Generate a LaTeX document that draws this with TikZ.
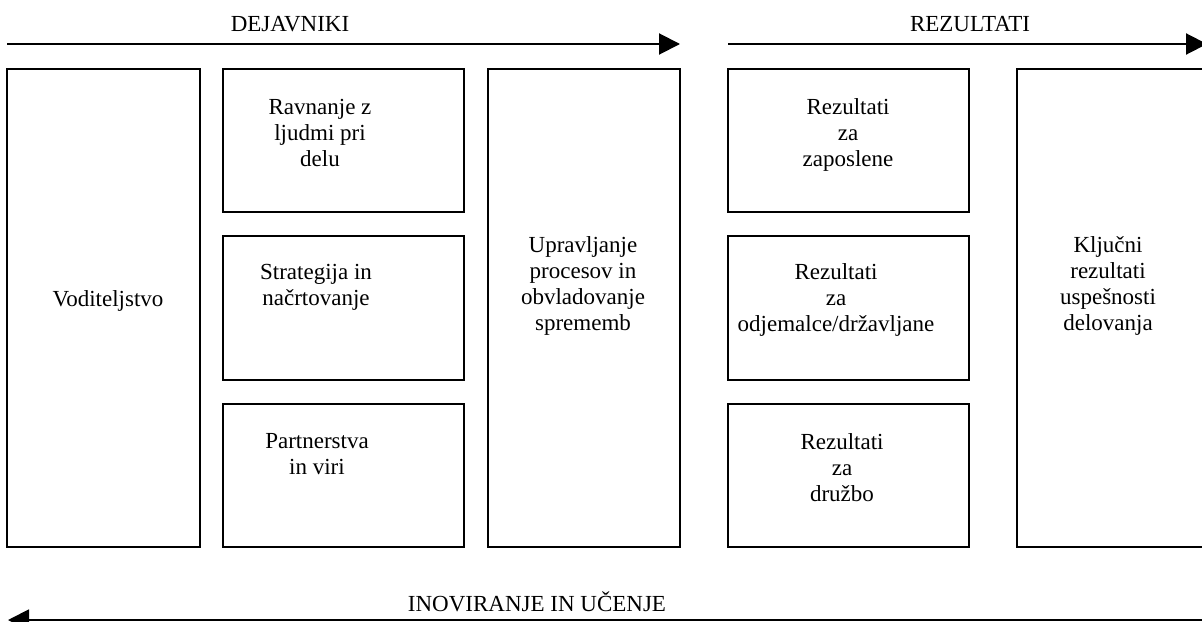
\documentclass[tikz,border=0pt]{standalone}
\usepackage{fontspec}
\setmainfont{Liberation Serif}
\usetikzlibrary{arrows.meta}
\tikzset{
  lbl/.style={align=center, font=\fontsize{11.5}{13}\selectfont, inner sep=0pt},
  flow/.style={line width=1pt, -{Triangle[length=10.5pt,width=10.5pt]}},
}
\begin{document}
\begin{tikzpicture}[x=0.5pt,y=-0.5pt,line width=1pt]
  \useasboundingbox (0,0) rectangle (1202,621);
  % boxes
  \draw (7,69) rectangle (200,547);
  \draw (223,69) rectangle (464,212);
  \draw (223,236) rectangle (464,380);
  \draw (223,404) rectangle (464,547);
  \draw (488,69) rectangle (680,547);
  \draw (728,69) rectangle (969,212);
  \draw (728,236) rectangle (969,380);
  \draw (728,404) rectangle (969,547);
  \draw (1017,69) rectangle (1215,547);
  % arrows
  \coordinate (dejL) at (7,44);
  \coordinate (dejR) at (680,44);
  \coordinate (rezL) at (728,44);
  \coordinate (rezR) at (1207,44);
  \coordinate (inoR) at (1215,620);
  \coordinate (inoL) at (8,620);
  \draw[flow] (dejL) -- (dejR);
  \draw[flow] (rezL) -- (rezR);
  \draw[flow] (inoR) -- (inoL);
  % labels
  \node[lbl] (dej) at (290,24) {DEJAVNIKI};
  \node[lbl] (rez) at (970,24) {REZULTATI};
  \node[lbl] (ino) at (537,602) {INOVIRANJE IN UČENJE};
  \node[lbl] (vod) at (108,301) {Voditeljstvo};
  \node[lbl] (ravn) at (320,133) {Ravnanje z\\ljudmi pri\\delu};
  \node[lbl] (strat) at (316,287) {Strategija in\\načrtovanje};
  \node[lbl] (partn) at (317,454) {Partnerstva\\in viri};
  \node[lbl] (uprav) at (583,286) {Upravljanje\\procesov in\\obvladovanje\\sprememb};
  \node[lbl] (rzap) at (848,135) {Rezultati\\za\\zaposlene};
  \node[lbl] (rodj) at (836,300) {Rezultati\\za\\odjemalce/državljane};
  \node[lbl] (rdru) at (842,468) {Rezultati\\za\\družbo};
  \node[lbl] (klj) at (1108,286) {Ključni\\rezultati\\uspešnosti\\delovanja};
\end{tikzpicture}
\end{document}
